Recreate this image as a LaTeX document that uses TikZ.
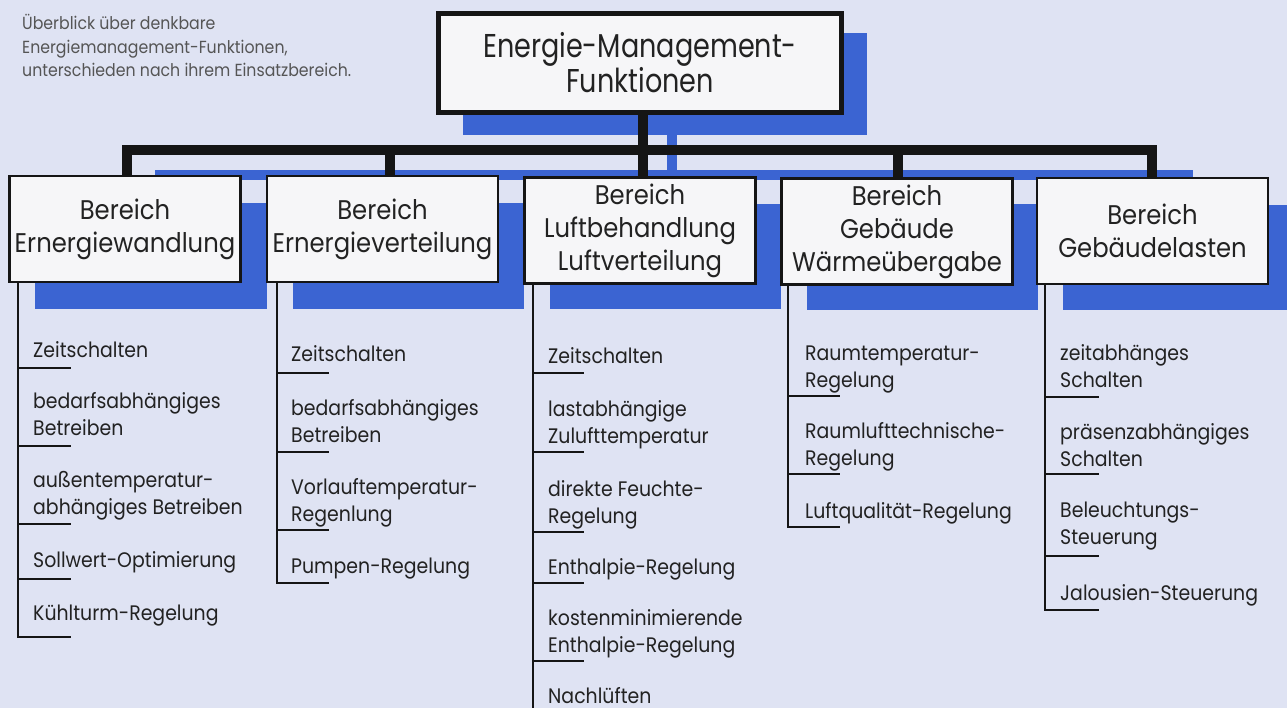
\documentclass[tikz,border=0pt]{standalone}
\usepackage{fontspec}
\setmainfont{Poppins}[FakeStretch=0.9]
\newfontfamily\topfont{Poppins}[FakeStretch=0.82]
\definecolor{bgc}{HTML}{DFE3F3}
\definecolor{shadowc}{HTML}{3B64D2}
\definecolor{boxc}{HTML}{F6F6F8}
\definecolor{linec}{HTML}{151515}
\definecolor{txtc}{HTML}{222222}
\definecolor{capc}{HTML}{555555}
\tikzset{
  catbox/.style={draw=linec, line width=2.6pt, fill=boxc, minimum width=231pt, minimum height=106pt,
    inner sep=0pt, align=center, text=txtc, font=\fontsize{27}{33}\selectfont},
  topbox/.style={draw=linec, line width=4.5pt, fill=boxc, minimum width=403pt, minimum height=99pt,
    inner sep=0pt, align=center, text=txtc, font=\topfont\fontsize{33}{30}\selectfont},
  busline/.style={draw=linec, line width=10pt},
  listline/.style={draw=linec, line width=2pt},
  item/.style={anchor=base west, inner sep=0pt, align=left, text=txtc, font=\fontsize{21}{27}\selectfont},
  shade/.style={fill=shadowc},
}
\begin{document}
\begin{tikzpicture}[x=1pt,y=-1pt]
\useasboundingbox (0,0) rectangle (1287,708);
\fill[bgc] (0,0) rectangle (1287,708);
% shadows
\fill[shade] (463,33) rectangle (867,135);
\fill[shade] (667,135) rectangle (677,178);
\fill[shade] (155,170) rectangle (1193,180);
\fill[shade] (35,203) rectangle (267,309);
\fill[shade] (293,203) rectangle (524,309);
\fill[shade] (550,204) rectangle (781,309);
\fill[shade] (807,204) rectangle (1038,310);
\fill[shade] (1063,205) rectangle (1294,310);
% caption (anchored at the baseline of its last line)
\node[anchor=base west, inner sep=0pt, align=left, text=capc, font=\fontsize{17.5}{23.5}\selectfont] (cap) at (22,77)
  {Überblick über denkbare\\Energiemanagement-Funktionen,\\unterschieden nach ihrem Einsatzbereich.};
% boxes
\node[topbox] (top) at (640,63) {Energie-Management-\\Funktionen};
\node[catbox] (b1) at (125,229) {Bereich\\Ernergiewandlung};
\node[catbox] (b2) at (382.5,229) {Bereich\\Ernergieverteilung};
\node[catbox] (b3) at (640,230.5) {Bereich\\Luftbehandlung\\Luftverteilung};
\node[catbox] (b4) at (897,231.5) {Bereich\\Gebäude\\Wärmeübergabe};
\node[catbox] (b5) at (1152.5,231) {Bereich\\Gebäudelasten};
% tree
\coordinate (busy) at (0,150);
\draw[busline] ([xshift=2pt]b1.north) |- ([xshift=-0.5pt]b5.north |- busy) -- ([xshift=-0.5pt]b5.north);
\draw[busline] ([xshift=7pt]b2.north) -- ([xshift=7pt]b2.north |- busy);
\draw[busline] ([xshift=3pt]top.south) -- ([xshift=3pt]b3.north);
\draw[busline] ([xshift=1pt]b4.north) -- ([xshift=1pt]b4.north |- busy);
% column 1
\draw[listline] (18,283) -- (18,637);
\foreach \t in {368,446,524,579,637} \draw[listline] (17,\t) -- (71,\t);
\node[item] (c1a) at (33,358) {Zeitschalten};
\node[item] (c1b) at (33,435) {bedarfsabhängiges\\Betreiben};
\node[item] (c1c) at (33,514) {außentemperatur-\\abhängiges Betreiben};
\node[item] (c1d) at (33,567) {Sollwert-Optimierung};
\node[item] (c1e) at (33,620) {Kühlturm-Regelung};
% column 2
\draw[listline] (277,283) -- (277,583);
\foreach \t in {373,452,530,583} \draw[listline] (276,\t) -- (329,\t);
\node[item] (c2a) at (291,362) {Zeitschalten};
\node[item] (c2b) at (291,442) {bedarfsabhängiges\\Betreiben};
\node[item] (c2c) at (291,521) {Vorlauftemperatur-\\Regenlung};
\node[item] (c2d) at (291,573) {Pumpen-Regelung};
% column 3
\draw[listline] (533,283) -- (533,710);
\foreach \t in {373,452,532,583,661} \draw[listline] (532,\t) -- (584,\t);
\node[item] (c3a) at (548,363) {Zeitschalten};
\node[item] (c3b) at (548,443) {lastabhängige\\Zulufttemperatur};
\node[item] (c3c) at (548,523) {direkte Feuchte-\\Regelung};
\node[item] (c3d) at (548,574) {Enthalpie-Regelung};
\node[item] (c3e) at (548,652) {kostenminimierende\\Enthalpie-Regelung};
\node[item] (c3f) at (548,703) {Nachlüften};
% column 4
\draw[listline] (788,285) -- (788,527);
\foreach \t in {396,474,527} \draw[listline] (787,\t) -- (840,\t);
\node[item] (c4a) at (805,387) {Raumtemperatur-\\Regelung};
\node[item] (c4b) at (805,465) {Raumlufttechnische-\\Regelung};
\node[item] (c4c) at (805,518) {Luftqualität-Regelung};
% column 5
\draw[listline] (1045,285) -- (1045,610);
\foreach \t in {397,474,556,610} \draw[listline] (1044,\t) -- (1099,\t);
\node[item] (c5a) at (1060,387) {zeitabhänges\\Schalten};
\node[item] (c5b) at (1060,466) {präsenzabhängiges\\Schalten};
\node[item] (c5c) at (1060,544) {Beleuchtungs-\\Steuerung};
\node[item] (c5d) at (1060,600) {Jalousien-Steuerung};
\end{tikzpicture}
\end{document}
